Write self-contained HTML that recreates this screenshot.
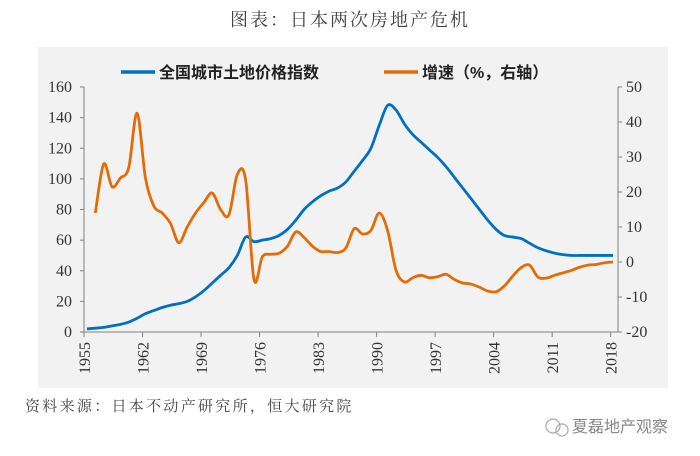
<!DOCTYPE html>
<html><head><meta charset="utf-8">
<style>
body{margin:0;background:#fff;width:700px;height:456px;overflow:hidden;}
svg{display:block;}
</style></head>
<body>
<svg width="700" height="456" xmlns="http://www.w3.org/2000/svg">
<rect x="38" y="47" width="630" height="341" fill="#f2f2f2"/>
<text x="350" y="26" text-anchor="middle" font-family="'Liberation Serif','Noto Serif CJK SC',serif" font-size="18" fill="#404040" letter-spacing="2">图表：日本两次房地产危机</text>
<g>
 <line x1="121" y1="72" x2="155" y2="72" stroke="#0070c0" stroke-width="3.5"/>
 <text x="159" y="78" font-family="'Liberation Sans','Noto Sans CJK SC',sans-serif" font-size="16" font-weight="bold" fill="#222">全国城市土地价格指数</text>
 <line x1="384" y1="72" x2="418" y2="72" stroke="#e36c09" stroke-width="3.5"/>
 <text x="422" y="78" font-family="'Liberation Sans','Noto Sans CJK SC',sans-serif" font-size="16" font-weight="bold" fill="#222">增速（%，右轴）</text>
</g>
<g id="axes"></g>
<g id="series"></g>
<text x="25" y="411" font-family="'Liberation Serif','Noto Serif CJK SC',serif" font-size="15" letter-spacing="2.3" fill="#444">资料来源：日本不动产研究所，恒大研究院</text>
<g>
 <circle cx="553" cy="426" r="7" fill="none" stroke="#aaa" stroke-width="1.2"/>
 <circle cx="562" cy="430" r="6" fill="none" stroke="#aaa" stroke-width="1.2"/>
 <text x="572" y="432" font-family="'Liberation Sans','Noto Sans CJK SC',sans-serif" font-size="16" fill="#888">夏磊地产观察</text>
</g>
</svg>
<script>
const years=[];for(let y=1955;y<=2018;y++)years.push(y);
const indexValues=[2,2.5,3,4,5,6.5,9,12,14,16,17.5,18.5,20,23,27,32,37,42,50,62,59,60,61,63,67,73,80,85,89,92,94,98,105,112,120,135,148,145,136,129,124,119,114,108,101,94,87,80,73,67,63,62,61,58,55,53,51.5,50.5,50,50,50,50,50,50];
const growthYears=years.slice(1);
const growthValues=[14,28,21.5,24,27,42.5,24,16,14,11,5.5,10,14,17,19.7,15,13.5,25,23.4,-5,1.5,2.2,2.5,4.5,8.6,7,4.5,3,3,2.7,4,9.5,8,9,14,9,-2.3,-5.7,-4.5,-3.8,-4.5,-4.2,-3.5,-5,-6,-6.3,-7.2,-8.3,-8.5,-6.8,-4,-1.6,-0.9,-4.3,-4.6,-3.8,-3.1,-2.4,-1.5,-0.9,-0.7,-0.2,0];
const leftTicks=[0,20,40,60,80,100,120,140,160];
const rightTicks=[-20,-10,0,10,20,30,40,50];
const xTickYears=[1955,1962,1969,1976,1983,1990,1997,2004,2011,2018];

const NS="http://www.w3.org/2000/svg";
const X0=84,X1=618,Y0=332,Y1=87;
function xs(y){return 87+(y-1955)*8.35;}
function xt(y){return 84+(y-1955)*8.36;}
function yl(v){return Y0-(v/160)*(Y0-Y1);}
function yr(v){return Y0-((v+20)/70)*(Y0-Y1);}
function mk(tag,attrs,parent){const e=document.createElementNS(NS,tag);for(const k in attrs)e.setAttribute(k,attrs[k]);parent.appendChild(e);return e;}
const axes=document.getElementById('axes'),series=document.getElementById('series');
const ser="'Liberation Serif',serif";
let e=mk('line',{x1:X0,y1:Y1,x2:X0,y2:Y0,stroke:'#808080','stroke-width':1},axes);


e=mk('line',{x1:X1,y1:Y1,x2:X1,y2:Y0,stroke:'#808080','stroke-width':1},axes);


e=mk('line',{x1:X0,y1:Y0,x2:X1,y2:Y0,stroke:'#808080','stroke-width':1},axes);


leftTicks.forEach(v=>{const y=yl(v);
 mk('line',{x1:X0-4,y1:y,x2:X0,y2:y,stroke:'#808080'},axes);
 const t=mk('text',{x:X0-12,y:y+5,'text-anchor':'end','font-family':ser,'font-size':16,fill:'#333'},axes);t.textContent=v;
 
 });
rightTicks.forEach(v=>{const y=yr(v);
 mk('line',{x1:X1,y1:y,x2:X1+4,y2:y,stroke:'#808080'},axes);
 const t=mk('text',{x:X1+8,y:y+5,'text-anchor':'start','font-family':ser,'font-size':16,fill:'#333'},axes);t.textContent=v;
 
 });
xTickYears.forEach(v=>{const x=xt(v);
 mk('line',{x1:x,y1:Y0,x2:x,y2:Y0+5,stroke:'#808080'},axes);
 const t=mk('text',{x:0,y:0,'text-anchor':'end','font-family':ser,'font-size':16,fill:'#333',transform:`translate(${x+6},${Y0+10}) rotate(-90)`},axes);t.textContent=v;
 
 });
function smooth(pts){let d=`M${pts[0][0]},${pts[0][1]}`;
 for(let i=0;i<pts.length-1;i++){const p0=pts[i-1]||pts[i],p1=pts[i],p2=pts[i+1],p3=pts[i+2]||p2;
  d+=` C${p1[0]+(p2[0]-p0[0])/6},${p1[1]+(p2[1]-p0[1])/6} ${p2[0]-(p3[0]-p1[0])/6},${p2[1]-(p3[1]-p1[1])/6} ${p2[0]},${p2[1]}`;}
 return d;}
const bp=years.map((y,i)=>[xs(y),yl(indexValues[i])]);
e=mk('path',{d:smooth(bp),fill:'none',stroke:'#0070c0','stroke-width':2.8,'stroke-linejoin':'round'},series);


const op=growthYears.map((y,i)=>[xs(y),yr(growthValues[i])]);
e=mk('path',{d:smooth(op),fill:'none',stroke:'#e36c09','stroke-width':2.8,'stroke-linejoin':'round'},series);


</script>
</body></html>
